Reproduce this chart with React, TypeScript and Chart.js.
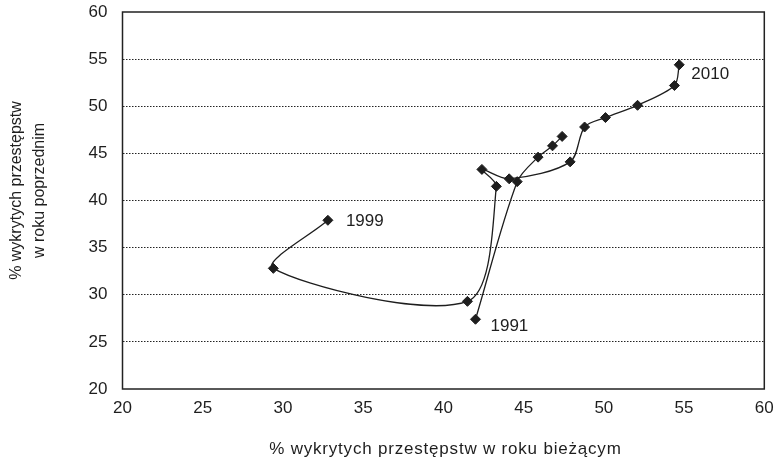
import React, { useEffect, useRef } from "react";
import { Chart, registerables } from "chart.js";

Chart.register(...registerables);

// 1991–1995
const yearsA = [1991, 1992, 1993, 1994, 1995];
const currentA = [42.0, 44.6, 45.9, 46.8, 47.4];
const previousA = [27.4, 42.0, 44.6, 45.8, 46.8];

// 1999–2010
const yearsB = [1999, 2000, 2001, 2002, 2003, 2004, 2005, 2006, 2007, 2008, 2009, 2010];
const currentB = [32.8, 29.4, 41.5, 43.3, 42.4, 44.1, 47.9, 48.8, 50.1, 52.1, 54.4, 54.7];
const previousB = [37.9, 32.8, 29.3, 41.5, 43.3, 42.3, 44.1, 47.8, 48.8, 50.1, 52.2, 54.4];

const labelledYears = [1991, 1999, 2010];

const axisMin = 20;
const axisMax = 60;
const axisStep = 5;

const xTitle = "% wykrytych przestępstw w roku bieżącym";
const yTitleLines = ["% wykrytych przestępstw", "w roku poprzednim"];

const FONT = "'Liberation Sans', Arial, sans-serif";
const INK = "#1e1e1e";

const labelOffsets: Record<number, [number, number]> = {
  1991: [15, 7],
  1999: [18, 1],
  2010: [12, 10],
};

const framePlugin = {
  id: "frame",
  beforeDatasetsDraw(chart: any) {
    const { ctx, chartArea: a } = chart;
    ctx.save();
    ctx.strokeStyle = "#222";
    ctx.lineWidth = 1.5;
    ctx.strokeRect(a.left, a.top, a.right - a.left, a.bottom - a.top);
    ctx.restore();
  },
};

const textPlugin = {
  id: "texts",
  afterDatasetsDraw(chart: any) {
    const { ctx, chartArea: a } = chart;
    ctx.save();
    ctx.fillStyle = INK;
    ctx.font = `17px ${FONT}`;
    ctx.textAlign = "left";
    ctx.textBaseline = "middle";
    const sets = [yearsA, yearsB];
    sets.forEach((yrs, di) => {
      const meta = chart.getDatasetMeta(di);
      yrs.forEach((yr, i) => {
        if (!labelledYears.includes(yr)) return;
        const p = meta.data[i];
        const off = labelOffsets[yr] || [10, 0];
        ctx.fillText(String(yr), p.x + off[0], p.y + off[1]);
      });
    });
    ctx.font = `17px ${FONT}`;
    (ctx as any).letterSpacing = "0.8px";
    ctx.textAlign = "center";
    ctx.textBaseline = "alphabetic";
    ctx.fillText(xTitle, (a.left + a.right) / 2 + 2, 453.5);
    (ctx as any).letterSpacing = "0px";
    ctx.font = `16px ${FONT}`;
    const cy = (a.top + a.bottom) / 2 - 10;
    yTitleLines.forEach((line, i) => {
      ctx.save();
      ctx.translate(21 + i * 23, cy);
      ctx.rotate(-Math.PI / 2);
      ctx.fillText(line, 0, 0);
      ctx.restore();
    });
    ctx.restore();
  },
};

const zeroPad = (s: any) => {
  s.paddingTop = 0;
  s.paddingBottom = 0;
  s.paddingLeft = 0;
  s.paddingRight = 0;
};

export default function App() {
  const ref = useRef<HTMLCanvasElement | null>(null);
  useEffect(() => {
    if (!ref.current) return;
    const mk = (xs: number[], ys: number[]) => xs.map((x, i) => ({ x, y: ys[i] }));
    const ds = (xs: number[], ys: number[]) => ({
      data: mk(xs, ys),
      showLine: true,
      borderColor: INK,
      borderWidth: 1.3,
      tension: 0.3,
      pointStyle: "rectRot" as const,
      pointRadius: 5,
      pointBackgroundColor: INK,
      pointBorderColor: INK,
      pointBorderWidth: 1,
      fill: false,
    });
    const chart = new Chart(ref.current, {
      type: "scatter",
      data: { datasets: [ds(currentA, previousA), ds(currentB, previousB)] },
      plugins: [framePlugin, textPlugin],
      options: {
        animation: false,
        responsive: true,
        maintainAspectRatio: false,
        layout: { padding: { left: 0, top: 12, right: 10.7, bottom: 0 } },
        plugins: { legend: { display: false }, tooltip: { enabled: false } },
        scales: {
          x: {
            type: "linear",
            min: axisMin,
            max: axisMax,
            afterFit: (s: any) => { s.height = 70; zeroPad(s); },
            ticks: { stepSize: axisStep, padding: 9, color: INK, font: { family: FONT, size: 17 } },
            grid: { display: false, drawTicks: false },
            border: { display: false },
          },
          y: {
            type: "linear",
            min: axisMin,
            max: axisMax,
            afterFit: (s: any) => { s.width = 122.5; zeroPad(s); },
            ticks: { stepSize: axisStep, padding: 15, color: INK, font: { family: FONT, size: 17 } },
            grid: {
              drawTicks: false,
              lineWidth: 1,
              color: (c: any) =>
                c.tick && (c.tick.value === axisMin || c.tick.value === axisMax) ? "rgba(0,0,0,0)" : "#222",
            },
            border: { display: false, dash: [1.5, 1.5] },
          },
        },
      },
    });
    return () => chart.destroy();
  }, []);
  return (
    <div style={{ position: "absolute", left: 0, top: 0, width: 775, height: 459, background: "#fff" }}>
      <canvas ref={ref} />
    </div>
  );
}
